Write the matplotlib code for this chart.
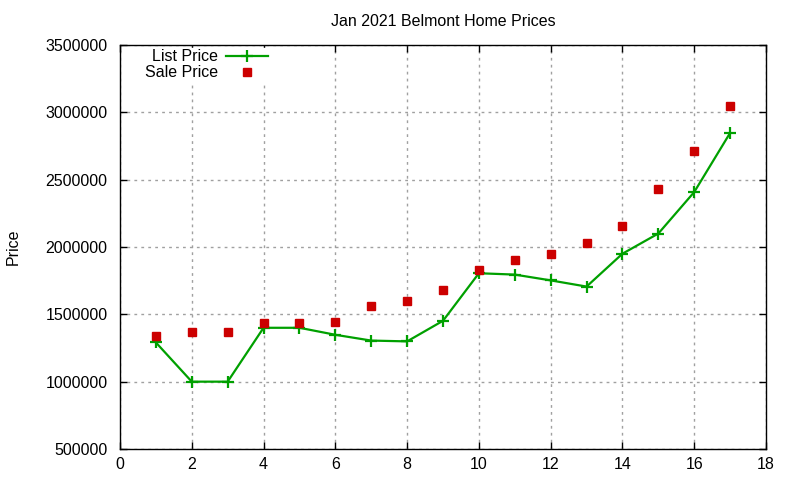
import numpy as np
import matplotlib
matplotlib.use("Agg")
from matplotlib import pyplot as plt

# data
months = [1, 2, 3, 4, 5, 6, 7, 8, 9, 10, 11, 12, 13, 14, 15, 16, 17]
list_price = [1291000, 1000000, 1000000, 1400000, 1400000, 1348000, 1305000,
              1299000, 1452000, 1805000, 1795000, 1752000, 1706000, 1950000,
              2100000, 2408000, 2847000]
sale_price = [1340000, 1372000, 1372000, 1436000, 1436000, 1445000, 1563000,
              1600000, 1681000, 1831000, 1906000, 1945000, 2031000, 2153000,
              2427000, 2711000, 3049000]

x_ticks = np.arange(0, 19, 2)
y_ticks = np.arange(500000, 3500001, 500000)

plt.rcParams['font.family'] = ['Liberation Sans', 'DejaVu Sans']
plt.rcParams['font.size'] = 11.5

fig = plt.figure(figsize=(8, 4.8), dpi=100)
ax = fig.add_axes([0.15, 0.0646, 0.8075, 0.8417])

# List price line with crosses
ax.plot(months, list_price, color='#00a000', lw=1.6, marker='+',
        markersize=8, markeredgewidth=1.6, label='List Price', zorder=3)
# Sale price squares
ax.plot(months, sale_price, linestyle='none', marker='s', color='#cc0000',
        markersize=6.3, label='Sale Price', zorder=3)

ax.set_xlim(0, 18)
ax.set_ylim(500000, 3500000)
ax.set_xticks(x_ticks)
ax.set_yticks(y_ticks)
ax.ticklabel_format(style='plain', axis='y', useOffset=False)

ax.grid(True, color='#a0a0a0', linestyle=(0, (2, 3)), linewidth=1)
ax.tick_params(direction='in', length=5, width=1, top=True, right=True,
               labelsize=11.5)
ax.tick_params(axis='y', pad=9)
ax.tick_params(axis='x', pad=6)
for s in ax.spines.values():
    s.set_linewidth(1)

ax.set_title('Jan 2021 Belmont Home Prices', fontsize=11.5, pad=14)
ax.set_ylabel('Price', fontsize=11.5, labelpad=18)

leg = ax.legend(loc='upper left', markerfirst=False, frameon=True,
                fancybox=False, edgecolor='white', framealpha=1,
                handlelength=2.6, handletextpad=0.5, labelspacing=0.05,
                borderpad=0.1, bbox_to_anchor=(0.024, 1.013), fontsize=11.5)

plt.savefig('out.png', dpi=100)
